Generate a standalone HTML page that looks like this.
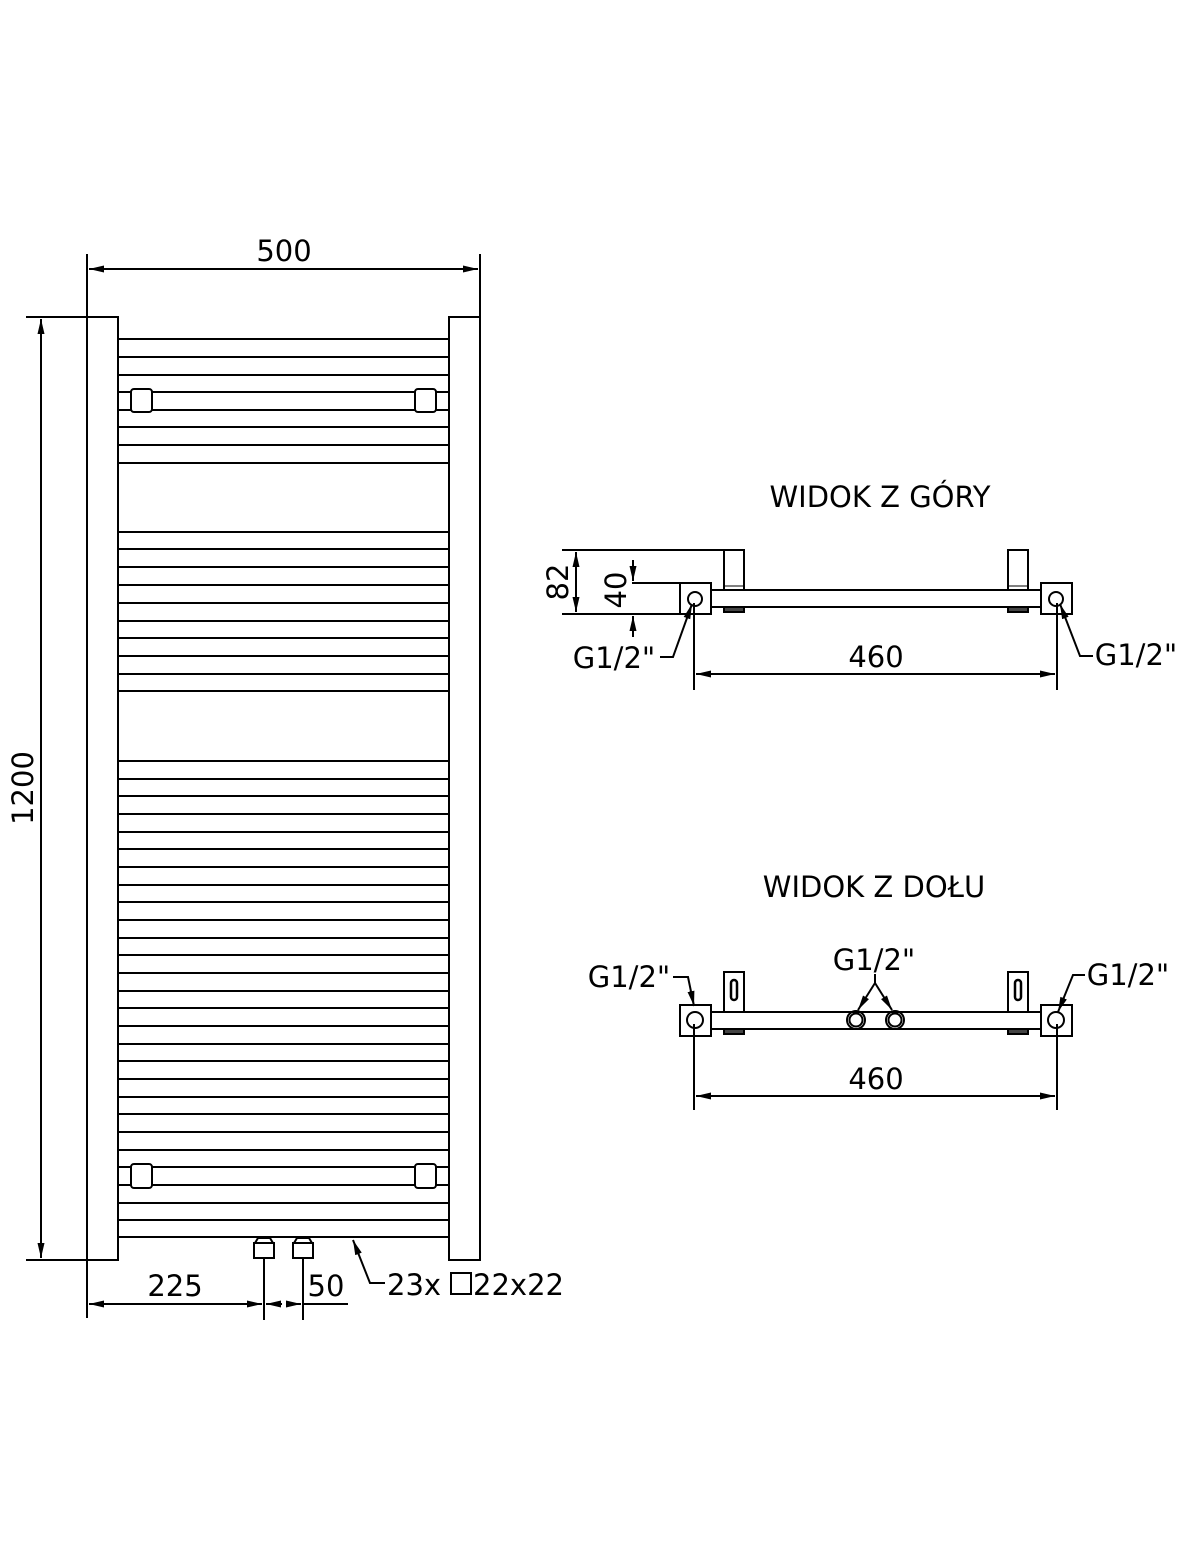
<!DOCTYPE html>
<html><head><meta charset="utf-8"><style>
html,body{margin:0;padding:0;background:#fff}
svg{display:block}
text{font-family:"DejaVu Sans","Liberation Sans",sans-serif;font-size:29px;fill:#000}
</style></head><body>
<svg width="1185" height="1551" viewBox="0 0 1185 1551" xmlns="http://www.w3.org/2000/svg">
<defs>
<marker id="a" markerWidth="15" markerHeight="9" refX="15" refY="4.5" orient="auto" markerUnits="userSpaceOnUse"><path d="M0,1 L15,4.5 L0,8 Z" fill="#000"/></marker>
</defs>
<g stroke="#000" stroke-width="2" fill="none">
<line x1="87" y1="254" x2="87" y2="317"/>
<line x1="480" y1="254" x2="480" y2="317"/>
<line x1="284" y1="269" x2="89" y2="269" marker-end="url(#a)"/>
<line x1="284" y1="269" x2="478" y2="269" marker-end="url(#a)"/>
<line x1="26" y1="317" x2="87" y2="317"/>
<line x1="26" y1="1260" x2="87" y2="1260"/>
<line x1="41" y1="788" x2="41" y2="319" marker-end="url(#a)"/>
<line x1="41" y1="788" x2="41" y2="1258" marker-end="url(#a)"/>
<rect x="87" y="317" width="31" height="943"/>
<rect x="449" y="317" width="31" height="943"/>
<path d="M118 339H449M118 357H449M118 375H449M118 392H449M118 410H449M118 427H449M118 445H449M118 463H449M118 532H449M118 549H449M118 567H449M118 585H449M118 603H449M118 621H449M118 638H449M118 656H449M118 674H449M118 691H449"/>
<path d="M118 761H449M118 779H449M118 796H449M118 814H449M118 832H449M118 849H449M118 867H449M118 885H449M118 902H449M118 920H449M118 938H449M118 955H449M118 973H449M118 991H449M118 1008H449M118 1026H449M118 1044H449M118 1061H449M118 1079H449M118 1097H449M118 1114H449M118 1132H449M118 1150H449M118 1167H449M118 1185H449M118 1203H449M118 1220H449M118 1237H449"/>
<rect x="131" y="389" width="21" height="23" rx="3" fill="#fff"/>
<rect x="415" y="389" width="21" height="23" rx="3" fill="#fff"/>
<rect x="131" y="1164" width="21" height="24" rx="3" fill="#fff"/>
<rect x="415" y="1164" width="21" height="24" rx="3" fill="#fff"/>
<path d="M258 1238h12l3 5h-18z M254 1243h20v15h-20z"/>
<path d="M297 1238h12l3 5h-18z M293 1243h20v15h-20z"/>
<line x1="87" y1="1260" x2="87" y2="1318"/>
<line x1="264" y1="1258" x2="264" y2="1320"/>
<line x1="303" y1="1258" x2="303" y2="1320"/>
<line x1="175" y1="1304" x2="89" y2="1304" marker-end="url(#a)"/>
<line x1="175" y1="1304" x2="262" y2="1304" marker-end="url(#a)"/>
<line x1="282" y1="1304" x2="266" y2="1304" marker-end="url(#a)"/>
<line x1="287" y1="1304" x2="301" y2="1304" marker-end="url(#a)"/>
<line x1="303" y1="1304" x2="348" y2="1304"/>
<path d="M385 1283H370L353 1240" marker-end="url(#a)"/>
<rect x="451" y="1273" width="20" height="21"/>

<line x1="562" y1="550" x2="724" y2="550"/>
<line x1="562" y1="614" x2="680" y2="614"/>
<line x1="632" y1="583" x2="680" y2="583"/>
<line x1="576" y1="582" x2="576" y2="552" marker-end="url(#a)"/>
<line x1="576" y1="582" x2="576" y2="612" marker-end="url(#a)"/>
<line x1="633" y1="560" x2="633" y2="581" marker-end="url(#a)"/>
<line x1="633" y1="637" x2="633" y2="616" marker-end="url(#a)"/>
<rect x="711" y="590" width="330" height="17"/>
<rect x="680" y="583" width="31" height="31"/>
<rect x="1041" y="583" width="31" height="31"/>
<circle cx="695" cy="599" r="7"/>
<circle cx="1056" cy="599" r="7"/>
<rect x="724" y="550" width="20" height="40"/>
<rect x="1008" y="550" width="20" height="40"/>
<rect x="724" y="607" width="20" height="5" fill="#444"/>
<rect x="1008" y="607" width="20" height="5" fill="#444"/>
<path d="M724 586H744M1008 586H1028" stroke-width="1"/>
<line x1="694" y1="603" x2="694" y2="690"/>
<line x1="1057" y1="603" x2="1057" y2="690"/>
<line x1="876" y1="674" x2="696" y2="674" marker-end="url(#a)"/>
<line x1="876" y1="674" x2="1055" y2="674" marker-end="url(#a)"/>
<path d="M660 657H673L692 604" marker-end="url(#a)"/>
<path d="M1093 656H1080L1060 604" marker-end="url(#a)"/>

<rect x="711" y="1012" width="330" height="17"/>
<rect x="680" y="1005" width="31" height="31"/>
<rect x="1041" y="1005" width="31" height="31"/>
<circle cx="695" cy="1020" r="8"/>
<circle cx="1056" cy="1020" r="8"/>
<rect x="724" y="972" width="20" height="40"/>
<rect x="1008" y="972" width="20" height="40"/>
<rect x="731" y="980" width="6" height="20" rx="3" stroke-width="2.5"/>
<rect x="1015" y="980" width="6" height="20" rx="3" stroke-width="2.5"/>
<rect x="724" y="1029" width="20" height="5" fill="#444"/>
<rect x="1008" y="1029" width="20" height="5" fill="#444"/>
<circle cx="856" cy="1020" r="9"/><circle cx="856" cy="1020" r="6.5"/>
<circle cx="895" cy="1020" r="9"/><circle cx="895" cy="1020" r="6.5"/>
<path d="M875 974V983L858 1010" marker-end="url(#a)"/>
<path d="M875 983L892 1010" marker-end="url(#a)"/>
<path d="M673 977H688L694 1006" marker-end="url(#a)"/>
<path d="M1085 975H1073L1058 1012" marker-end="url(#a)"/>
<line x1="694" y1="1024" x2="694" y2="1110"/>
<line x1="1057" y1="1024" x2="1057" y2="1110"/>
<line x1="876" y1="1096" x2="696" y2="1096" marker-end="url(#a)"/>
<line x1="876" y1="1096" x2="1055" y2="1096" marker-end="url(#a)"/>
</g>
<text x="284" y="261" text-anchor="middle">500</text>
<text transform="translate(33,788) rotate(-90)" text-anchor="middle">1200</text>
<text x="175" y="1296" text-anchor="middle">225</text>
<text x="326" y="1296" text-anchor="middle">50</text>
<text x="387" y="1295">23x</text>
<text x="473" y="1295">22x22</text>
<text x="880" y="507" text-anchor="middle">WIDOK Z GÓRY</text>
<text transform="translate(568,582) rotate(-90)" text-anchor="middle">82</text>
<text transform="translate(626,590) rotate(-90)" text-anchor="middle">40</text>
<text x="614" y="668" text-anchor="middle">G1/2"</text>
<text x="876" y="667" text-anchor="middle">460</text>
<text x="1136" y="665" text-anchor="middle">G1/2"</text>
<text x="874" y="897" text-anchor="middle">WIDOK Z DOŁU</text>
<text x="629" y="987" text-anchor="middle">G1/2"</text>
<text x="874" y="970" text-anchor="middle">G1/2"</text>
<text x="1128" y="985" text-anchor="middle">G1/2"</text>
<text x="876" y="1089" text-anchor="middle">460</text>
</svg>
</body></html>
